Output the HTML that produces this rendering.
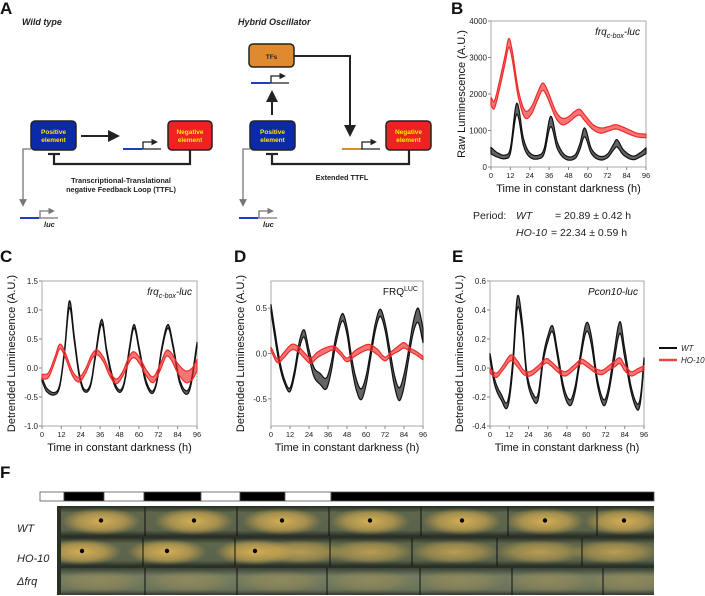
<!DOCTYPE html>
<html><head><meta charset="utf-8"><style>
html,body{margin:0;padding:0;background:#fff}
svg{display:block;font-family:"Liberation Sans",sans-serif}
</style></head><body>
<svg id="fig" width="705" height="596" viewBox="0 0 705 596" xmlns="http://www.w3.org/2000/svg">
<defs>
<radialGradient id="spore" cx="50%" cy="50%" r="50%"><stop offset="0" stop-color="#dcb456" stop-opacity="0.95"/><stop offset="0.6" stop-color="#cfa850" stop-opacity="0.65"/><stop offset="1" stop-color="#c9a24a" stop-opacity="0"/></radialGradient>
<linearGradient id="plateG" x1="0" y1="0" x2="0" y2="1"><stop offset="0" stop-color="#2f362b"/><stop offset="0.2" stop-color="#5e674b"/><stop offset="0.8" stop-color="#5a634c"/><stop offset="1" stop-color="#2a3026"/></linearGradient>
<linearGradient id="frqG" x1="0" y1="0" x2="0" y2="1"><stop offset="0" stop-color="#3a4436"/><stop offset="0.3" stop-color="#737c62"/><stop offset="0.8" stop-color="#6a735a"/><stop offset="1" stop-color="#333b2e"/></linearGradient>
<clipPath id="plateClip"><rect x="61" y="506" width="593" height="89"/></clipPath>
<marker id="ah" markerWidth="6" markerHeight="6" refX="3" refY="3" orient="auto"><path d="M0,0 L6,3 L0,6 z" fill="#222"/></marker>
<marker id="ahg" markerWidth="6" markerHeight="6" refX="3" refY="3" orient="auto"><path d="M0,0 L6,3 L0,6 z" fill="#777"/></marker>
<marker id="ahs" markerWidth="5" markerHeight="5" refX="2" refY="2.5" orient="auto"><path d="M0,0 L5,2.5 L0,5 z" fill="#222"/></marker>
<marker id="ahsg" markerWidth="5" markerHeight="5" refX="2" refY="2.5" orient="auto"><path d="M0,0 L5,2.5 L0,5 z" fill="#777"/></marker>
</defs>

<g font-weight="bold" font-size="17" fill="#111">
<text x="0" y="14">A</text>
<text x="451" y="14">B</text>
<text x="0" y="262">C</text>
<text x="234" y="262">D</text>
<text x="452" y="262">E</text>
<text x="0" y="478">F</text>
</g>

<g font-weight="bold">
<text x="22" y="25" font-size="9" font-style="italic" fill="#222">Wild type</text>
<path d="M81,136 L114,136" stroke="#222" stroke-width="2" marker-end="url(#ah)" fill="none"/>
<g><line x1="123" y1="149" x2="142" y2="149" stroke="#1b3fbf" stroke-width="2"/><line x1="142" y1="149" x2="161" y2="149" stroke="#222" stroke-width="1.3"/><path d="M143,149 V142 H154" stroke="#222" stroke-width="1.3" fill="none" marker-end="url(#ahs)"/></g>
<path d="M190,150 V164 H54 V154" stroke="#222" stroke-width="2.2" fill="none"/>
<line x1="48" y1="154" x2="60" y2="154" stroke="#222" stroke-width="2.2"/>
<rect x="31" y="121" width="45" height="29" rx="4" fill="#0a2aa8" stroke="#222" stroke-width="1.5"/>
<text x="53.5" y="134" font-size="6.5" fill="#ffe800" text-anchor="middle">Positive</text><text x="53.5" y="142" font-size="6.5" fill="#ffe800" text-anchor="middle">element</text>
<rect x="168" y="121" width="44" height="29" rx="4" fill="#ee2222" stroke="#222" stroke-width="1.5"/>
<text x="190" y="134" font-size="6.5" fill="#ffe800" text-anchor="middle">Negative</text><text x="190" y="142" font-size="6.5" fill="#ffe800" text-anchor="middle">element</text>
<text x="121" y="183" font-size="7.3" fill="#222" text-anchor="middle">Transcriptional-Translational</text>
<text x="121" y="192" font-size="7.3" fill="#222" text-anchor="middle">negative Feedback Loop (TTFL)</text>
<path d="M31,149 H23 V203" stroke="#777" stroke-width="1.3" fill="none" marker-end="url(#ahg)"/>
<g><line x1="20" y1="218" x2="39" y2="218" stroke="#1b3fbf" stroke-width="2"/><line x1="39" y1="218" x2="58" y2="218" stroke="#777" stroke-width="1.3"/><path d="M40,218 V211 H51" stroke="#777" stroke-width="1.3" fill="none" marker-end="url(#ahsg)"/>
<text x="44" y="227" font-size="7.5" font-style="italic" fill="#222">luc</text></g>
</g>

<g font-weight="bold">
<text x="238" y="25" font-size="9" font-style="italic" fill="#222">Hybrid Oscillator</text>
<rect x="249" y="44" width="45" height="23" rx="4" fill="#e08a30" stroke="#222" stroke-width="1.5"/>
<text x="271.5" y="59" font-size="6.5" fill="#222" text-anchor="middle">TFs</text>
<line x1="251" y1="83" x2="270" y2="83" stroke="#1b3fbf" stroke-width="2"/><line x1="270" y1="83" x2="289" y2="83" stroke="#222" stroke-width="1.3"/><path d="M271,83 V76 H282" stroke="#222" stroke-width="1.3" fill="none" marker-end="url(#ahs)"/>
<path d="M272,115 V96" stroke="#222" stroke-width="2" fill="none" marker-end="url(#ah)"/>
<path d="M294,56 H350 V131" stroke="#222" stroke-width="2" fill="none" marker-end="url(#ah)"/>
<line x1="342" y1="149" x2="361" y2="149" stroke="#e08a30" stroke-width="2"/><line x1="361" y1="149" x2="380" y2="149" stroke="#222" stroke-width="1.3"/><path d="M362,149 V142 H373" stroke="#222" stroke-width="1.3" fill="none" marker-end="url(#ahs)"/>
<path d="M409,150 V164 H272 V154" stroke="#222" stroke-width="2.2" fill="none"/>
<line x1="266" y1="154" x2="278" y2="154" stroke="#222" stroke-width="2.2"/>
<rect x="250" y="121" width="45" height="29" rx="4" fill="#0a2aa8" stroke="#222" stroke-width="1.5"/>
<text x="272.5" y="134" font-size="6.5" fill="#ffe800" text-anchor="middle">Positive</text><text x="272.5" y="142" font-size="6.5" fill="#ffe800" text-anchor="middle">element</text>
<rect x="386" y="121" width="45" height="29" rx="4" fill="#ee2222" stroke="#222" stroke-width="1.5"/>
<text x="408.5" y="134" font-size="6.5" fill="#ffe800" text-anchor="middle">Negative</text><text x="408.5" y="142" font-size="6.5" fill="#ffe800" text-anchor="middle">element</text>
<text x="342" y="180" font-size="7.3" fill="#222" text-anchor="middle">Extended TTFL</text>
<path d="M250,149 H243 V203" stroke="#777" stroke-width="1.3" fill="none" marker-end="url(#ahg)"/>
<line x1="239" y1="218" x2="258" y2="218" stroke="#1b3fbf" stroke-width="2"/><line x1="258" y1="218" x2="277" y2="218" stroke="#777" stroke-width="1.3"/><path d="M259,218 V211 H270" stroke="#777" stroke-width="1.3" fill="none" marker-end="url(#ahsg)"/>
<text x="263" y="227" font-size="7.5" font-style="italic" fill="#222">luc</text>
</g>

<g font-size="10.5" fill="#222">
<text x="473" y="219">Period:</text><text x="516" y="219" font-style="italic">WT</text><text x="555" y="219">= 20.89 ± 0.42 h</text>
<text x="516" y="236" font-style="italic">HO-10</text><text x="551" y="236">= 22.34 ± 0.59 h</text>
</g>

<g>
<g><line x1="659" y1="348" x2="677" y2="348" stroke="#111" stroke-width="2"/><text x="681" y="351" font-size="8" font-style="italic" fill="#222">WT</text></g>
<g><line x1="659" y1="360" x2="677" y2="360" stroke="#ee4444" stroke-width="2.5"/><text x="681" y="363" font-size="8" font-style="italic" fill="#222">HO-10</text></g>
</g>

<g id="charts"></g>

<g>
<g id="ldbar"></g>
<rect x="57" y="506" width="597" height="89" fill="#2a3026"/>
<rect x="61" y="507" width="593" height="29" fill="url(#plateG)"/>
<rect x="61" y="538" width="593" height="28" fill="url(#plateG)"/>
<rect x="61" y="568" width="593" height="27" fill="url(#frqG)"/>
<g id="tubes" clip-path="url(#plateClip)"></g>
<g font-size="11" font-style="italic" fill="#222">
<text x="17" y="532">WT</text>
<text x="17" y="562">HO-10</text>
<text x="17" y="585">Δfrq</text>
</g>
</g>
</svg>
<script>
const bWtT   = [0,4,9,12,16,20,24,30,33,37,41,46,52,55,58,62,67,72,76,78,82,88,93,96];
const bWtY   = [450,330,280,450,1600,700,330,280,450,1250,600,270,280,550,950,450,250,300,550,650,400,250,350,450];
const bWtE   = [90,60,50,70,150,100,60,50,70,140,90,50,50,80,120,70,50,50,80,100,70,50,60,80];
const bHoT   = [0,2,5,9,11,13,17,21,25,29,32,35,40,44,48,52,55,58,63,68,73,77,81,86,91,96];
const bHoY   = [1800,1700,2200,3000,3400,3100,2000,1450,1550,1950,2200,2000,1450,1250,1300,1450,1500,1350,1100,1000,1050,1100,1050,950,870,850];
const bHoE   = [110,100,110,110,120,120,100,100,100,100,100,100,90,90,80,80,80,80,70,70,60,60,60,60,50,50];
const bYTicks = [0,1000,2000,3000,4000];
const cWtT = [0,3,8,11,14,17,20,23,26,30,33,37,40,44,48,51,54,57,60,64,68,71,74,78,81,85,89,92,96];
const cWtY = [-0.2,-0.38,-0.44,-0.3,0.3,1.1,0.5,-0.1,-0.38,-0.3,0.2,0.8,0.3,-0.2,-0.4,-0.25,0.3,0.72,0.35,-0.2,-0.42,-0.25,0.3,0.72,0.4,-0.2,-0.42,-0.3,0.4];
const cWtE = [0.03,0.03,0.02,0.02,0.03,0.06,0.04,0.03,0.02,0.02,0.03,0.04,0.03,0.03,0.02,0.02,0.03,0.03,0.03,0.03,0.02,0.02,0.03,0.03,0.03,0.03,0.03,0.03,0.04];
const cHoT = [0,4,8,11,14,19,23,27,31,34,38,42,46,50,54,57,61,65,69,73,77,80,84,89,93,96];
const cHoY = [-0.15,-0.12,0.15,0.37,0.25,-0.1,-0.2,-0.05,0.2,0.27,0.15,-0.1,-0.23,-0.1,0.15,0.23,0.1,-0.1,-0.2,0.0,0.25,0.2,0.0,-0.15,-0.1,0.05];
const cHoE = [0.04,0.04,0.04,0.04,0.04,0.04,0.04,0.04,0.04,0.04,0.04,0.04,0.04,0.04,0.05,0.05,0.05,0.05,0.05,0.05,0.05,0.06,0.08,0.1,0.1,0.1];
const cYTicks = [-1.0,-0.5,0.0,0.5,1.0,1.5];
const dWtT = [0,3,6,9,12,15,18,21,24,27,31,35,38,41,45,48,51,54,57,60,63,66,69,72,75,78,81,84,87,90,93,96];
const dWtY = [0.5,0.15,-0.15,-0.33,-0.4,-0.2,0.1,0.22,0.0,-0.2,-0.28,-0.33,-0.15,0.15,0.4,0.25,-0.1,-0.35,-0.45,-0.3,0.0,0.3,0.45,0.3,0.0,-0.3,-0.45,-0.3,0.0,0.3,0.42,0.2];
const dWtE = [0.04,0.04,0.03,0.02,0.02,0.03,0.04,0.04,0.04,0.05,0.06,0.06,0.05,0.04,0.04,0.04,0.05,0.06,0.06,0.05,0.04,0.04,0.04,0.04,0.05,0.06,0.07,0.07,0.05,0.06,0.08,0.08];
const dHoT = [0,4,8,13,17,21,25,29,34,40,44,48,53,58,62,67,72,76,81,84,88,92,96];
const dHoY = [0.05,-0.08,-0.02,0.07,0.05,-0.02,-0.08,-0.02,0.03,0.06,0.0,-0.07,0.0,0.05,0.07,0.02,-0.06,0.0,0.06,0.09,0.04,0.0,-0.05];
const dHoE = [0.02,0.02,0.03,0.03,0.03,0.03,0.03,0.03,0.03,0.02,0.02,0.02,0.03,0.03,0.03,0.03,0.02,0.02,0.03,0.03,0.02,0.02,0.02];
const dYTicks = [-0.5,0.0,0.5];
const eWtT = [0,3,7,11,14,17,20,23,27,30,33,36,39,42,46,50,53,56,60,63,67,71,74,77,81,84,88,92,94,96];
const eWtY = [0.08,-0.1,-0.2,-0.25,0.0,0.45,0.3,-0.05,-0.2,-0.2,0.05,0.2,0.27,0.1,-0.15,-0.24,-0.15,0.05,0.28,0.2,-0.1,-0.24,-0.15,0.05,0.28,0.1,-0.15,-0.27,-0.2,0.05];
const eWtE = [0.02,0.02,0.02,0.02,0.03,0.04,0.03,0.02,0.02,0.02,0.02,0.02,0.02,0.02,0.02,0.02,0.02,0.02,0.03,0.03,0.02,0.02,0.02,0.03,0.04,0.03,0.02,0.02,0.02,0.02];
const eHoT = [0,4,8,13,17,21,25,30,35,38,43,47,52,57,61,66,70,74,78,81,84,88,92,96];
const eHoY = [-0.02,-0.05,0.0,0.07,0.03,-0.03,-0.04,0.0,0.05,0.03,-0.02,-0.04,0.0,0.045,0.02,-0.02,-0.03,0.0,0.03,0.05,0.0,-0.04,-0.02,0.0];
const eHoE = [0.015,0.015,0.015,0.02,0.02,0.015,0.015,0.015,0.015,0.015,0.015,0.015,0.015,0.015,0.015,0.015,0.015,0.015,0.02,0.02,0.02,0.015,0.015,0.015];
const eYTicks = [-0.4,-0.2,0.0,0.2,0.4,0.6];
const xTicks = [0,12,24,36,48,60,72,84,96];
const ldSegments = [[0,1],[1,0],[2,1],[3,0],[4,1],[5,0],[6,1],[7,0]];
const ldBounds = [40,64,104,144,201,240,285,331,654];
const wtDividers = [145,237,329,421,508,597];
const wtMarks = [101,194,282,370,462,545,624];
const hoDividers = [143,235,330,412,497,582];
const hoMarks = [82,167,255];
const dfrqDividers = [145,237,327,420,512,603];

const NS = "http://www.w3.org/2000/svg";
function el(tag, attrs, parent){const e=document.createElementNS(NS,tag);for(const k in attrs)e.setAttribute(k,attrs[k]);parent.appendChild(e);return e;}

function sampleSpline(T, Y, n){
  const out=[];
  for(let i=0;i<T.length-1;i++){
    const t0=T[Math.max(i-1,0)],t1=T[i],t2=T[i+1],t3=T[Math.min(i+2,T.length-1)];
    const y0=Y[Math.max(i-1,0)],y1=Y[i],y2=Y[i+1],y3=Y[Math.min(i+2,Y.length-1)];
    const m1=(y2-y0)/((t2-t0)||1)*(t2-t1), m2=(y3-y1)/((t3-t1)||1)*(t2-t1);
    for(let s=0;s<n;s++){const u=s/n,u2=u*u,u3=u2*u;
      const h00=2*u3-3*u2+1,h10=u3-2*u2+u,h01=-2*u3+3*u2,h11=u3-u2;
      out.push([t1+(t2-t1)*u, h00*y1+h10*m1+h01*y2+h11*m2]);}
  }
  out.push([T[T.length-1],Y[Y.length-1]]);
  return out;
}

function drawChart(cfg){
  const root=document.getElementById('charts');
  const g=el('g',{},root);
  
  
  const {x0,x1,y0,y1,ymin,ymax}=cfg;
  const sx=v=>x0+(v-0)/96*(x1-x0);
  const sy=v=>y1-(v-ymin)/(ymax-ymin)*(y1-y0);
  const frame=el('rect',{x:x0,y:y0,width:x1-x0,height:y1-y0,fill:'none',stroke:'#aaa','stroke-width':1},g);
  
  
  for(const series of cfg.series){
    const ptsM=sampleSpline(series.t,series.y,8);
    const ptsE=sampleSpline(series.t,series.e,8);
    let up='',lo='';
    for(let i=0;i<ptsM.length;i++){up+=(i?'L':'M')+sx(ptsM[i][0]).toFixed(1)+','+sy(ptsM[i][1]+ptsE[i][1]).toFixed(1);}
    for(let i=ptsM.length-1;i>=0;i--){lo+='L'+sx(ptsM[i][0]).toFixed(1)+','+sy(ptsM[i][1]-ptsE[i][1]).toFixed(1);}
    const band=el('path',{d:up+lo+'Z',fill:series.color,'fill-opacity':0.65,stroke:series.color,'stroke-width':1.2,'stroke-linejoin':'round'},g);
    
    
  }
  const axis=el('g',{'font-size':8,fill:'#222'},g);
  
  
  for(const v of cfg.yTicks){
    el('line',{x1:x0-3,x2:x0,y1:sy(v),y2:sy(v),stroke:'#888'},axis);
    const t=el('text',{x:x0-4,y:sy(v)+3,'text-anchor':'end'},axis);t.textContent=cfg.fmt(v);
    
    
  }
  for(const v of xTicks){
    el('line',{x1:sx(v),x2:sx(v),y1:y1,y2:y1+3,stroke:'#888'},axis);
    const t=el('text',{x:sx(v),y:y1+11,'text-anchor':'middle','font-size':7.5},axis);t.textContent=v;
    
    
  }
  const xt=el('text',{x:(x0+x1)/2,y:y1+25,'text-anchor':'middle','font-size':11,fill:'#111'},g);
  xt.textContent='Time in constant darkness (h)';
  
  
  const yt=el('text',{x:0,y:0,'text-anchor':'middle','font-size':11,fill:'#111',transform:`translate(${cfg.ytx},${(y0+y1)/2}) rotate(-90)`},g);
  yt.textContent=cfg.ytitle;
  
  
  const an=el('text',{x:cfg.ax,y:y0+14,'text-anchor':'end','font-size':10,fill:'#111'},g);
  an.innerHTML=cfg.annot;
  
  
}
const frqLabel='<tspan font-style="italic">frq</tspan><tspan font-style="italic" font-size="7" dy="3">c-box</tspan><tspan font-style="italic" dy="-3">-luc</tspan>';
const f1=v=>v.toFixed(1);
drawChart({name:'chart-b-raw-luminescence',x0:491,x1:646,y0:21,y1:167,ymin:0,ymax:4000,yTicks:bYTicks,fmt:v=>String(v),ytx:465,ytitle:'Raw Luminescence (A.U.)',ax:640,annot:frqLabel,
  series:[{t:bHoT,y:bHoY,e:bHoE,color:'#ee2b2b',label:'series-ho10'},{t:bWtT,y:bWtY,e:bWtE,color:'#111',label:'series-wt'}]});
drawChart({name:'chart-c-frq-cbox-luc',x0:42,x1:197,y0:281,y1:426,ymin:-1,ymax:1.5,yTicks:cYTicks,fmt:f1,ytx:15,ytitle:'Detrended Luminescence (A.U.)',ax:192,annot:frqLabel,
  series:[{t:cWtT,y:cWtY,e:cWtE,color:'#111',label:'series-wt'},{t:cHoT,y:cHoY,e:cHoE,color:'#ee2b2b',label:'series-ho10'}]});
drawChart({name:'chart-d-frq-luc',x0:271,x1:423,y0:281,y1:426,ymin:-0.8,ymax:0.8,yTicks:dYTicks,fmt:f1,ytx:244,ytitle:'Detrended Luminescence (A.U.)',ax:418,annot:'FRQ<tspan font-size="7" dy="-4">LUC</tspan>',
  series:[{t:dWtT,y:dWtY,e:dWtE,color:'#111',label:'series-wt'},{t:dHoT,y:dHoY,e:dHoE,color:'#ee2b2b',label:'series-ho10'}]});
drawChart({name:'chart-e-pcon10-luc',x0:490,x1:644,y0:281,y1:426,ymin:-0.4,ymax:0.6,yTicks:eYTicks,fmt:f1,ytx:463,ytitle:'Detrended Luminescence (A.U.)',ax:638,annot:'<tspan font-style="italic">Pcon10-luc</tspan>',
  series:[{t:eWtT,y:eWtY,e:eWtE,color:'#111',label:'series-wt'},{t:eHoT,y:eHoY,e:eHoE,color:'#ee2b2b',label:'series-ho10'}]});

const ld=document.getElementById('ldbar');
for(const [i,light] of ldSegments){
  const r=el('rect',{x:ldBounds[i],y:492,width:ldBounds[i+1]-ldBounds[i],height:9,fill:light?'#fff':'#000',stroke:'#555','stroke-width':0.8},ld);
  
  
}
const tubes=document.getElementById('tubes');
function row(y,h,marks,divs,spread,op){
  for(const m of marks){
    const b=el('ellipse',{cx:m,cy:y+h/2,rx:40,ry:h/2-1,fill:'url(#spore)'},tubes);
    
    
  }
  for(const m of spread){
    const b=el('ellipse',{cx:m,cy:y+h/2,rx:45,ry:h/2-2,fill:'url(#spore)','fill-opacity':op},tubes);
    
    
  }
  for(const d of divs){
    const l=el('line',{x1:d,x2:d,y1:y,y2:y+h,stroke:'#111','stroke-width':1},tubes);
    
    
  }
  for(const m of marks){
    const c=el('circle',{cx:m,cy:y+h/2-1,r:2.2,fill:'#000'},tubes);
    
    
  }
}
row(507,29,wtMarks,wtDividers,[],0.6);
row(538,28,hoMarks,hoDividers,[300,370,455,540,615],0.75);
row(568,27,[],dfrqDividers,[100,190,280,370,460,550,630],0.3);
</script>
</body></html>
